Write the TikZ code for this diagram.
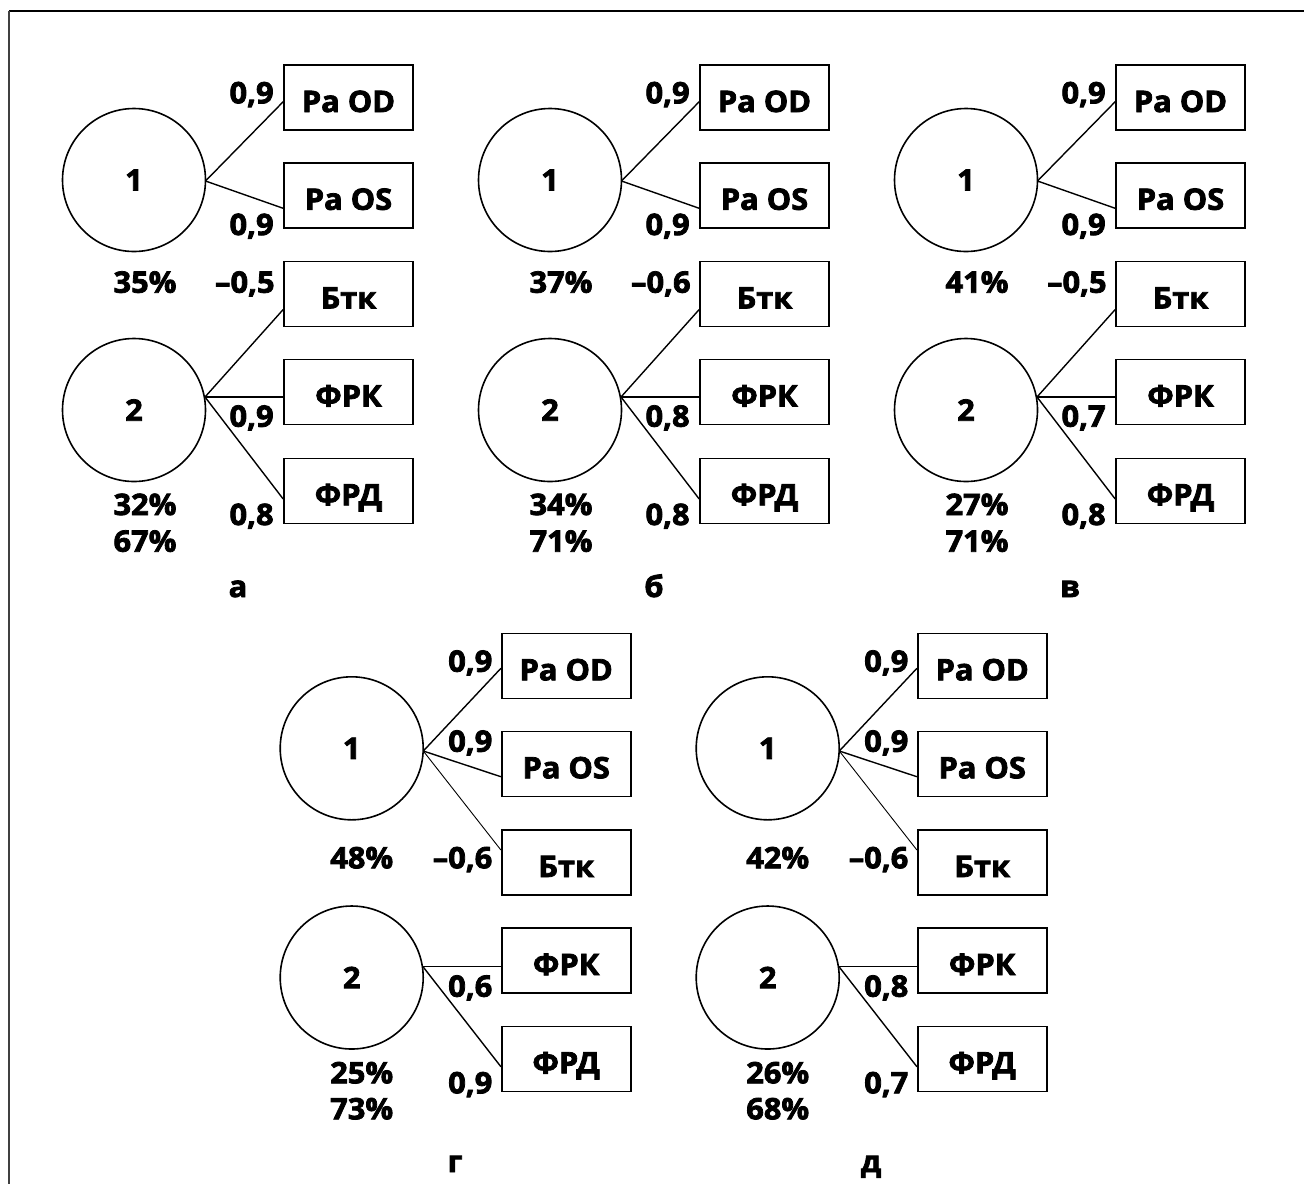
\documentclass[tikz,border=0pt]{standalone}
\usepackage{fontspec}
\setmainfont{Open Sans}[FakeStretch=1.04,BoldFeatures={FakeBold=2.6}]
\begin{document}
\begin{tikzpicture}[x=0.5pt,y=-0.5pt,
  every node/.style={font=\fontsize{14.8}{17}\selectfont\bfseries},
  hub/.style={draw,circle,line width=0.8pt,minimum size=71.5pt,inner sep=0pt},
  box/.style={draw,rectangle,line width=0.8pt,minimum width=64.5pt,minimum height=32.5pt,inner sep=0pt,text height=14.5pt,text depth=0pt},
  edge/.style={line width=0.7pt},
  thinedge/.style={line width=0.45pt},
  wl/.style={anchor=base east,inner sep=0pt},
  pl/.style={anchor=base,inner sep=0pt}]
\useasboundingbox (0,0) rectangle (1304,1184);
\coordinate (fA) at (9,11);
\coordinate (fB) at (1304,11);
\coordinate (fC) at (9,1184);
\draw[line width=0.7pt] (fA) -- (fB);
\draw[line width=1pt,black!75] (fA) -- (fC);

\foreach \pn/\ox/\wA/\wB/\qA/\wC/\wD/\wE/\qB/\qC/\pL in {
  a/0/{0,9}/{0,9}/{35\%}/{–0,5}/{0,9}/{0,8}/{32\%}/{67\%}/а,
  b/416/{0,9}/{0,9}/{37\%}/{–0,6}/{0,8}/{0,8}/{34\%}/{71\%}/б,
  v/832/{0,9}/{0,9}/{41\%}/{–0,5}/{0,7}/{0,8}/{27\%}/{71\%}/в}{
  \begin{scope}[shift={(\ox,0)}]
    \node[hub] (\pn-c1) at (134,180) {1};
    \node[hub] (\pn-c2) at (134,410) {2};
    \node[box] (\pn-od) at (348.5,97.5) {Pa OD};
    \node[box] (\pn-os) at (348.5,195.3) {Pa OS};
    \node[box] (\pn-bt) at (348.5,294) {Бтк};
    \node[box] (\pn-fk) at (348.5,392) {ФРК};
    \node[box] (\pn-fd) at (348.5,490.8) {ФРД};
    \coordinate (\pn-h1) at (205.5,181);
    \coordinate (\pn-h2) at (205,397);
    \draw[edge] (\pn-h1) -- (\pn-od.west |- 0,101.7);
    \draw[edge] (\pn-h1) -- (\pn-os.west |- 0,208.3);
    \draw[edge] (\pn-h2) -- (\pn-bt.west |- 0,309.5);
    \draw[edge] (\pn-h2) -- (\pn-fk.west |- 0,397);
    \draw[edge] (\pn-h2) -- (\pn-fd.west |- 0,499);
    \node[wl] (\pn-l1) at (274,103.3) {\wA};
    \node[wl] (\pn-l2) at (274,235) {\wB};
    \node[pl] (\pn-p1) at (145,292.7) {\qA};
    \node[wl] (\pn-l3) at (275,292.7) {\wC};
    \node[wl] (\pn-l4) at (274,426.7) {\wD};
    \node[wl] (\pn-l5) at (274,525) {\wE};
    \node[pl] (\pn-p2) at (145,515) {\qB};
    \node[pl] (\pn-p3) at (145,551.7) {\qC};
    \node[pl] (\pn-lt) at (238,597) {\pL};
  \end{scope}
}

\foreach \pn/\ox/\wA/\wB/\wC/\qA/\wD/\wE/\qB/\qC/\pL in {
  g/0/{0,9}/{0,9}/{–0,6}/{48\%}/{0,6}/{0,9}/{25\%}/{73\%}/г,
  d/416/{0,9}/{0,9}/{–0,6}/{42\%}/{0,8}/{0,7}/{26\%}/{68\%}/д}{
  \begin{scope}[shift={(\ox,0)}]
    \node[hub] (\pn-c1) at (351.7,748.3) {1};
    \node[hub] (\pn-c2) at (351.7,977.5) {2};
    \node[box] (\pn-od) at (566.2,665.8) {Pa OD};
    \node[box] (\pn-os) at (566.2,763.8) {Pa OS};
    \node[box] (\pn-bt) at (566.2,862.5) {Бтк};
    \node[box] (\pn-fk) at (566.2,960.5) {ФРК};
    \node[box] (\pn-fd) at (566.2,1058.8) {ФРД};
    \coordinate (\pn-h1) at (423.3,751);
    \coordinate (\pn-h2) at (423,966.7);
    \draw[edge] (\pn-h1) -- (\pn-od.west |- 0,668.3);
    \draw[edge] (\pn-h1) -- (\pn-os.west |- 0,776.7);
    \draw[thinedge] (\pn-h1) -- (\pn-bt.west |- 0,850);
    \draw[edge] (\pn-h2) -- (\pn-fk.west |- 0,966.7);
    \draw[edge] (\pn-h2) -- (\pn-fd.west |- 0,1066.7);
    \node[wl] (\pn-l1) at (492.7,671.7) {\wA};
    \node[wl] (\pn-l2) at (492.7,751.7) {\wB};
    \node[wl] (\pn-l3) at (492.7,868.3) {\wC};
    \node[pl] (\pn-p1) at (361.7,868.3) {\qA};
    \node[wl] (\pn-l4) at (492.7,996.7) {\wD};
    \node[wl] (\pn-l5) at (492.7,1093.3) {\wE};
    \node[pl] (\pn-p2) at (361.7,1083.3) {\qB};
    \node[pl] (\pn-p3) at (361.7,1119.3) {\qC};
    \node[pl] (\pn-lt) at (455,1172) {\pL};
  \end{scope}
}
\end{tikzpicture}
\end{document}
